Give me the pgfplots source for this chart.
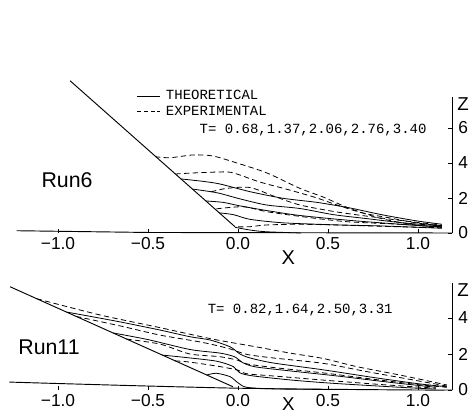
\documentclass[border=0pt]{standalone}
\usepackage{fontspec}
\setmainfont{Liberation Sans}
\setmonofont{Liberation Mono}
\usepackage{pgfplots}
\pgfplotsset{compat=1.18}

\newcommand\legfont{\fontsize{10.5}{11}\ttfamily}
\newcommand\runfont{\fontsize{16}{18}\selectfont}

\pgfplotsset{
  panel/.style={
    x=135pt, xmin=-1.23, xmax=1.19, ymin=0,
    axis x line*=bottom, axis y line*=right,
    x axis line style={draw=none},
    y axis line style={line width=0.6pt},
    clip=false,
    xtick={-1,-0.5,0,0.5,1},
    xticklabels={−1.0,−0.5,0.0,0.5,1.0},
    tick align=inside,
    major tick length=3pt,
    tick style={black, line width=0.5pt},
    ticklabel style={font=\fontsize{13}{14}\selectfont},
    /pgf/number format/assume math mode=true,
    yticklabel style={anchor=west, xshift=1pt},
    every axis plot/.append style={line width=0.6pt, black},
  },
  theo/.style={solid, smooth, tension=0.45},
  expt/.style={dash pattern=on 4pt off 2.5pt, smooth, tension=0.45},
}

\begin{document}
\begin{tikzpicture}
% ---- Run6 ----
\begin{axis}[panel, y=13.125pt, ymax=7.77, ytick={0,2,4,6},
  legend style={draw=none, fill=none, at={(0.276,1.07)}, anchor=north west,
    font=\legfont, inner sep=0pt, row sep=-1pt, cells={anchor=west},
    nodes={inner xsep=4pt}}]
\addlegendimage{black, solid, line width=0.6pt}
\addlegendentry{THEORETICAL}
\addlegendimage{black, dash pattern=on 3pt off 2pt, line width=0.6pt}
\addlegendentry{EXPERIMENTAL}
% bed and slope
\addplot[line width=0.7pt] coordinates {(-1.23,0.13)(-0.5,0.03)(1.19,0)};
\addplot[line width=0.7pt] coordinates {(-0.933,8.70)(-0.017,0.36)};
% theoretical
\addplot[theo] coordinates {(-0.317,3.09)(-0.194,2.95)(-0.1,2.8)(0.067,2.36)(0.252,1.98)(0.439,1.75)(0.622,1.43)(0.806,1.03)(0.994,0.69)(1.133,0.5)};
\addplot[theo] coordinates {(-0.253,2.51)(-0.117,2.3)(0.011,1.95)(0.159,1.6)(0.344,1.4)(0.529,1.05)(0.717,0.82)(0.917,0.58)(1.133,0.4)};
\addplot[theo] coordinates {(-0.179,1.83)(-0.083,1.75)(0.011,1.55)(0.161,1.28)(0.344,1.0)(0.622,0.72)(0.9,0.5)(1.133,0.33)};
\addplot[theo] coordinates {(-0.104,1.15)(-0.026,1.05)(0.067,0.78)(0.252,0.58)(0.529,0.47)(0.806,0.4)(1.133,0.27)};
\addplot[theo] coordinates {(-0.017,0.33)(0.011,0.27)(0.08,0.15)(0.159,0.07)(0.35,0.0)};
% experimental
\addplot[expt] coordinates {(-0.461,4.36)(-0.378,4.3)(-0.25,4.46)(-0.139,4.4)(-0.006,4.0)(0.161,3.43)(0.344,2.55)(0.472,2.06)(0.622,1.4)(0.806,0.8)(0.994,0.45)(1.133,0.36)};
\addplot[expt] coordinates {(-0.348,3.37)(-0.25,3.43)(-0.061,3.49)(0.011,3.31)(0.122,2.91)(0.289,2.45)(0.439,2.0)(0.55,1.6)(0.694,1.14)(0.844,0.86)(0.994,0.57)(1.133,0.42)};
\addplot[expt] coordinates {(-0.15,2.35)(-0.063,2.55)(0.067,2.6)(0.2,2.1)(0.344,1.6)(0.55,1.2)(0.8,0.85)(1.0,0.6)(1.133,0.45)};
\addplot[expt] coordinates {(-0.12,1.38)(0.03,1.5)(0.159,1.22)(0.344,0.95)(0.6,0.65)(0.9,0.5)(1.133,0.35)};
\addplot[expt] coordinates {(0.0,0.35)(0.067,0.36)(0.159,0.46)(0.344,0.5)(0.529,0.46)(0.8,0.38)(1.133,0.3)};
\node[font=\runfont] at (axis cs:-0.95,3.03) {Run6};
\node[font=\legfont, anchor=west] at (axis cs:-0.239,5.89) {T= 0.68,1.37,2.06,2.76,3.40};
\node[font=\fontsize{14}{15}\selectfont] at (axis cs:1.25,7.35) {Z};
\node[font=\fontsize{15}{16}\selectfont] at (axis cs:0.28,-1.4) {X};
\end{axis}

% ---- Run11 ----
\begin{axis}[panel, at={(0,-117.75pt)}, y=13.5pt, ymax=5.94, ytick={0,2,4}]
% bed and slope
\addplot[line width=0.7pt, smooth] coordinates {(-1.27,0.44)(-1.0,0.36)(-0.5,0.22)(0,0.1)(0.5,0.04)(1.0,0.0)(1.19,0.0)};
\addplot[line width=0.7pt] coordinates {(-1.267,5.74)(-0.028,0.18)};
% theoretical
\addplot[theo] coordinates {(-0.952,4.33)(-0.674,3.82)(-0.433,3.33)(-0.267,2.96)(-0.156,2.78)(-0.044,2.4)(0.011,2.0)(0.067,1.78)(0.196,1.5)(0.474,1.12)(0.75,0.7)(1.0,0.35)(1.16,0.18)};
\addplot[theo] coordinates {(-0.694,3.17)(-0.5,2.8)(-0.267,2.25)(-0.1,2.05)(-0.02,1.85)(0.03,1.5)(0.1,1.28)(0.3,1.05)(0.55,0.78)(0.85,0.42)(1.1,0.15)};
\addplot[theo] coordinates {(-0.42,1.94)(-0.285,1.8)(-0.118,1.6)(-0.026,1.3)(0.011,0.95)(0.085,0.78)(0.3,0.55)(0.53,0.37)(0.9,0.15)(1.1,0.05)};
\addplot[theo] coordinates {(-0.174,0.83)(-0.12,0.93)(-0.044,0.74)(0.0,0.4)(0.048,0.15)(0.2,0.06)(0.5,0.03)};
% experimental
\addplot[expt] coordinates {(-1.118,5.07)(-0.767,4.17)(-0.45,3.5)(-0.137,2.82)(0.1,2.4)(0.289,2.05)(0.474,1.75)(0.659,1.3)(0.9,0.83)(1.16,0.28)};
\addplot[expt] coordinates {(-0.9,4.09)(-0.65,3.55)(-0.433,3.05)(-0.2,2.65)(-0.05,2.3)(0.048,1.98)(0.196,1.78)(0.474,1.48)(0.7,1.05)(0.95,0.6)(1.16,0.22)};
\addplot[expt] coordinates {(-0.62,2.83)(-0.433,2.55)(-0.267,2.0)(-0.1,1.85)(0.0,1.65)(0.05,1.45)(0.196,1.25)(0.474,0.95)(0.75,0.6)(1.0,0.3)(1.16,0.15)};
\addplot[expt] coordinates {(-0.35,1.62)(-0.267,1.55)(-0.1,1.3)(0.0,1.1)(0.05,0.9)(0.196,0.78)(0.474,0.55)(0.8,0.3)(1.1,0.1)};
\node[font=\runfont] at (axis cs:-1.05,2.4) {Run11};
\node[font=\legfont, anchor=west] at (axis cs:-0.194,4.44) {T= 0.82,1.64,2.50,3.31};
\node[font=\fontsize{14}{15}\selectfont] at (axis cs:1.25,5.56) {Z};
\node[font=\fontsize{14}{15}\selectfont, inner sep=0pt] at (axis cs:0.28,-0.78) {X};
\end{axis}

\pgfresetboundingbox
\path (-12.45pt,-138pt) rectangle (340.05pt,174.75pt);
\end{tikzpicture}
\end{document}
